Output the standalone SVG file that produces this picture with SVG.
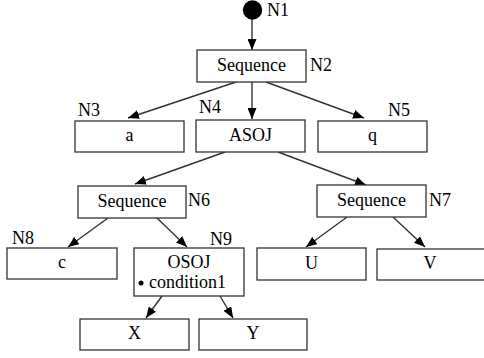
<svg xmlns="http://www.w3.org/2000/svg" width="484" height="358" viewBox="0 0 484 358">
<defs>
<marker id="ah" markerWidth="11" markerHeight="9" refX="11" refY="4.5" orient="auto" markerUnits="userSpaceOnUse">
<path d="M0,0 L11,4.5 L0,9 z" fill="#000"/>
</marker>
<style>
.box{fill:#fff;stroke:#333;stroke-width:1.3}
text{font-family:'Liberation Serif','Times New Roman',serif;font-size:18px;fill:#000}
.c{text-anchor:middle}
.e{stroke:#333;stroke-width:1.4;fill:none;marker-end:url(#ah)}
</style>
</defs>
<rect width="484" height="358" fill="#fff"/>
<g id="connectors">
<line class="e" x1="252" y1="19" x2="252" y2="50"/>
<line class="e" x1="236" y1="82" x2="128" y2="118"/>
<line class="e" x1="252" y1="82" x2="252" y2="119"/>
<line class="e" x1="266" y1="82" x2="364" y2="118"/>
<line class="e" x1="225" y1="152" x2="135" y2="184"/>
<line class="e" x1="278" y1="152" x2="366" y2="185"/>
<line class="e" x1="108" y1="218" x2="68" y2="247"/>
<line class="e" x1="157" y1="218" x2="187" y2="247"/>
<line class="e" x1="347" y1="217" x2="306" y2="247"/>
<line class="e" x1="393" y1="217" x2="425" y2="247"/>
<line class="e" x1="162" y1="296" x2="146" y2="318"/>
<line class="e" x1="220" y1="296" x2="233" y2="318"/>
</g>
<g id="N1">
<circle cx="252.5" cy="10" r="9.7" fill="#000"/>
<text x="267" y="16">N1</text>
</g>
<g id="N2">
<rect class="box" x="197" y="50" width="109" height="32"/>
<text class="c" x="251.5" y="71">Sequence</text>
<text x="310" y="71">N2</text>
</g>
<g id="N3">
<rect class="box" x="75" y="121" width="109" height="31"/>
<text class="c" x="129.5" y="141">a</text>
<text x="78" y="116">N3</text>
</g>
<g id="N4">
<rect class="box" x="196" y="120" width="109" height="32"/>
<text class="c" x="250.5" y="141">ASOJ</text>
<text x="199" y="113">N4</text>
</g>
<g id="N5">
<rect class="box" x="318" y="121" width="109" height="31"/>
<text class="c" x="372.5" y="141">q</text>
<text x="388" y="116">N5</text>
</g>
<g id="N6">
<rect class="box" x="78" y="186" width="108" height="32"/>
<text class="c" x="132" y="207">Sequence</text>
<text x="188" y="206">N6</text>
</g>
<g id="N7">
<rect class="box" x="317" y="185" width="109" height="32"/>
<text class="c" x="371.5" y="206">Sequence</text>
<text x="429" y="206">N7</text>
</g>
<g id="N8">
<rect class="box" x="7" y="248" width="110" height="31"/>
<text class="c" x="62" y="268">c</text>
<text x="12" y="244">N8</text>
</g>
<g id="N9">
<rect class="box" x="134" y="248" width="110" height="48"/>
<text class="c" x="189" y="268">OSOJ</text>
<circle cx="141" cy="283" r="2.5" fill="#000"/>
<text x="149" y="288">condition1</text>
<text x="210" y="245">N9</text>
</g>
<g id="U">
<rect class="box" x="257" y="248" width="109" height="32"/>
<text class="c" x="311.5" y="269">U</text>
</g>
<g id="V">
<rect class="box" x="377" y="249" width="113" height="31"/>
<text class="c" x="430" y="269">V</text>
</g>
<g id="X">
<rect class="box" x="80" y="319" width="109" height="31"/>
<text class="c" x="134.5" y="339">X</text>
</g>
<g id="Y">
<rect class="box" x="199" y="319" width="108" height="31"/>
<text class="c" x="253" y="339">Y</text>
</g>
</svg>
